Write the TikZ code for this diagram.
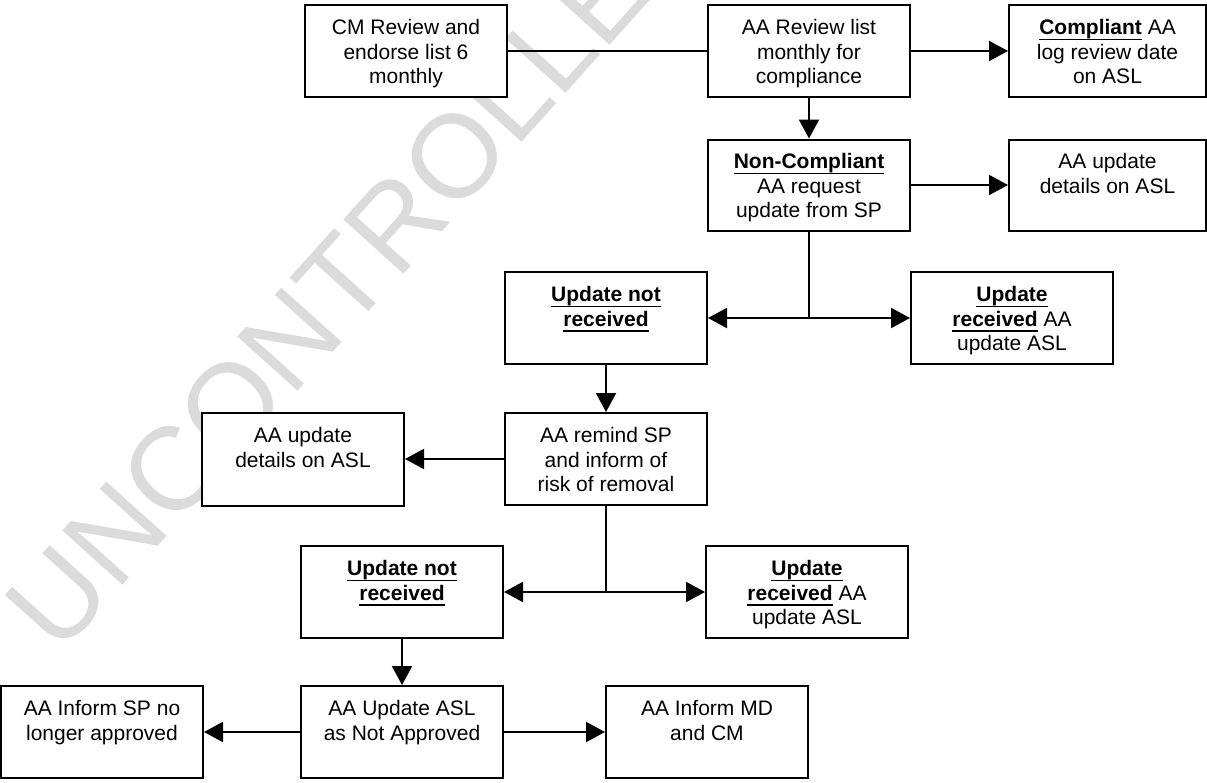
\documentclass[tikz,border=0pt]{standalone}
\usepackage{fontspec}
\setmainfont{Liberation Sans}
\usetikzlibrary{arrows.meta}
\newcommand\myul[1]{\leavevmode\setbox0=\hbox{#1}\rlap{\rule[-5.5pt]{\wd0}{1.8pt}}\box0\relax}
\newcommand\boxtext[1]{\parbox[c][66pt][t]{192pt}{\centering\strut #1}}
\tikzset{
  flowbox/.style={draw=black, line width=2pt, fill=white, rectangle, inner sep=0pt,
    minimum width=202pt, minimum height=92pt},
  conn/.style={line width=2pt},
  arr/.style={line width=2pt, -{Triangle[length=19pt,width=20pt]}},
  wmark/.style={text=black!14, font=\fontsize{118}{118}\selectfont}
}
\begin{document}
\begin{tikzpicture}[x=1pt, y=-1pt, font=\fontsize{21}{24.2}\selectfont]
\useasboundingbox (0,0) rectangle (1207,782);
\node[wmark, rotate=48] (wm) at (356,266) {UNCONTROLLED};

\node[flowbox] (cm) at (406,51) {\boxtext{CM Review and\\endorse list 6\\monthly}};
\node[flowbox] (rev) at (809,51) {\boxtext{AA Review list\\monthly for\\compliance}};
\node[flowbox, minimum width=197pt] (comp) at (1107.5,51) {\boxtext{\myul{\textbf{Compliant}} AA\\log review date\\on ASL}};
\node[flowbox, minimum height=91pt] (nc) at (809,185) {\boxtext{\myul{\textbf{Non-Compliant}}\\AA request\\update from SP}};
\node[flowbox, minimum width=197pt, minimum height=91pt] (upd1) at (1107.5,185) {\boxtext{AA update\\details on ASL}};
\node[flowbox] (unr1) at (606,318) {\boxtext{\myul{\textbf{Update not}}\\\myul{\textbf{received}}}};
\node[flowbox] (ur1) at (1012,318) {\boxtext{\myul{\textbf{Update}}\\\myul{\textbf{received}} AA\\update ASL}};
\node[flowbox, minimum height=93pt] (upd2) at (303,459) {\boxtext{AA update\\details on ASL}};
\node[flowbox] (rem) at (606,459) {\boxtext{AA remind SP\\and inform of\\risk of removal}};
\node[flowbox] (unr2) at (402,592) {\boxtext{\myul{\textbf{Update not}}\\\myul{\textbf{received}}}};
\node[flowbox] (ur2) at (807,592) {\boxtext{\myul{\textbf{Update}}\\\myul{\textbf{received}} AA\\update ASL}};
\node[flowbox] (isp) at (102,732) {\boxtext{AA Inform SP no\\longer approved}};
\node[flowbox] (uasl) at (402,732) {\boxtext{AA Update ASL\\as Not Approved}};
\node[flowbox] (imd) at (707,732) {\boxtext{AA Inform MD\\and CM}};

\draw[conn] (cm.east) -- (rev.west);
\draw[arr] (rev.east) -- (comp.west);
\draw[arr] (rev.south) -- (nc.north);
\draw[arr] (nc.east) -- (upd1.west);
\coordinate (j1) at (nc.south |- unr1.east);
\draw[conn] (nc.south) -- (j1);
\draw[arr] (j1) -- (unr1.east);
\draw[arr] (j1) -- (ur1.west);
\draw[arr] (unr1.south) -- (rem.north);
\draw[arr] (rem.west) -- (upd2.east);
\coordinate (j2) at (rem.south |- unr2.east);
\draw[conn] (rem.south) -- (j2);
\draw[arr] (j2) -- (unr2.east);
\draw[arr] (j2) -- (ur2.west);
\draw[arr] (unr2.south) -- (uasl.north);
\draw[arr] (uasl.west) -- (isp.east);
\draw[arr] (uasl.east) -- (imd.west);
\end{tikzpicture}
\end{document}
